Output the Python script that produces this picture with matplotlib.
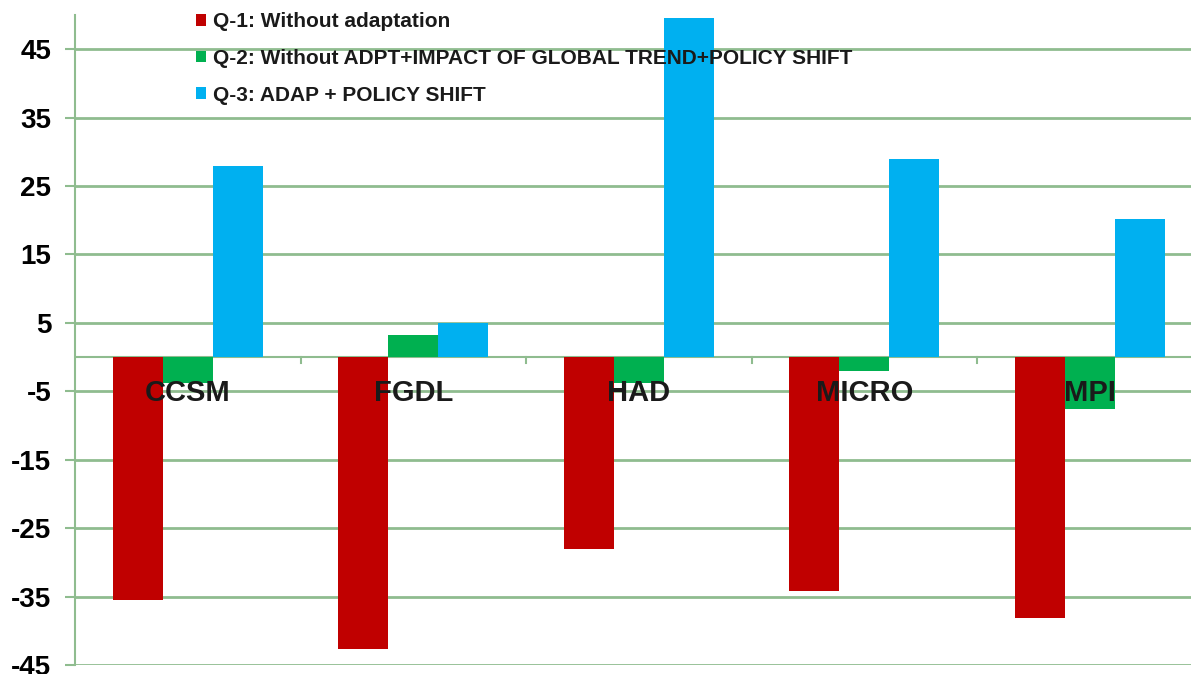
import matplotlib
matplotlib.use("Agg")
import matplotlib.pyplot as plt
import numpy as np

# model names and the three scenario series
models = ["CCSM", "FGDL", "HAD", "MICRO", "MPI"]
q1_without_adaptation = [-35.5, -42.7, -28.0, -34.2, -38.1]
q2_without_adpt_global_policy = [-3.8, 3.3, -3.8, -2.0, -7.6]
q3_adap_policy = [27.9, 5.0, 49.6, 28.9, 20.2]

series_labels = [
    "Q-1: Without adaptation",
    "Q-2: Without ADPT+IMPACT OF GLOBAL TREND+POLICY SHIFT",
    "Q-3: ADAP + POLICY SHIFT",
]
y_ticks = [45, 35, 25, 15, 5, -5, -15, -25, -35, -45]

colors = ["#C00000", "#00B050", "#00B0F0"]
grid_col = "#8fbc8f"

plt.rcParams["font.family"] = ["Liberation Sans", "DejaVu Sans"]

fig = plt.figure(figsize=(11.91, 6.74), dpi=100)
# axes spans past the right edge as in the cropped original
ax = fig.add_axes([75 / 1191, 9 / 674, 1127.5 / 1191, 650 / 674])

x = np.arange(len(models))
w = 0.222
for i, vals in enumerate([q1_without_adaptation, q2_without_adpt_global_policy, q3_adap_policy]):
    ax.bar(x + (i - 1) * w, vals, width=w, color=colors[i], label=series_labels[i], zorder=3)

ax.set_xlim(-0.5, len(models) - 0.5)
ax.set_ylim(-45, 50)
ax.set_yticks(y_ticks)
ax.set_yticklabels([str(v) for v in y_ticks], fontsize=20, fontweight="bold")
ax.tick_params(axis="y", length=7, width=1.5, color=grid_col, pad=10)
ax.set_xticks([])

ax.yaxis.grid(True, color=grid_col, linewidth=2, zorder=0)
ax.set_axisbelow(True)
for s in ["top", "right", "bottom"]:
    ax.spines[s].set_visible(False)
ax.spines["left"].set_color(grid_col)
ax.spines["left"].set_linewidth(1.5)

# horizontal axis at zero with downward ticks between categories
ax.axhline(0, color=grid_col, linewidth=1.5, zorder=2)
for b in np.arange(0.5, len(models) - 0.5, 1.0):
    ax.plot([b, b], [0, -0.9], color=grid_col, linewidth=1.5, zorder=2)

# category names sit inside the plot just below zero
for xi, name in zip(x, models):
    ax.text(xi, -5.3, name, ha="center", va="center", fontsize=21,
            fontweight="bold", color="#1a1a1a", zorder=5)

leg = ax.legend(loc="upper left", bbox_to_anchor=(196 / 1191, 0.982),
                bbox_transform=fig.transFigure, frameon=False,
                prop={"size": 15, "weight": "bold"}, handlelength=0.5,
                handleheight=0.5, handletextpad=0.3, labelspacing=0.85,
                borderpad=0, borderaxespad=0)
leg.set_zorder(6)
for t in leg.get_texts():
    t.set_color("#1a1a1a")

plt.savefig("out.png", dpi=100)
